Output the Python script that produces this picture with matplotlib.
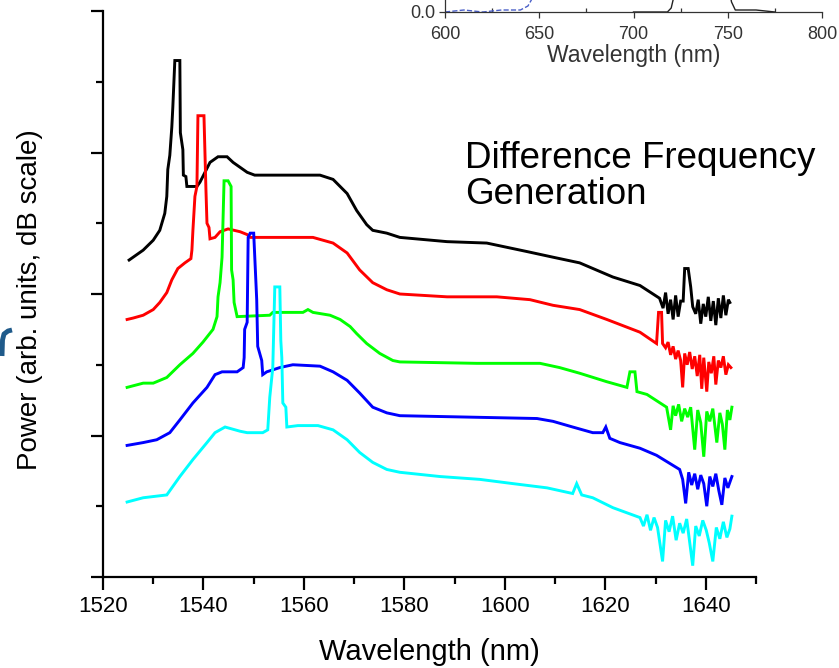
import matplotlib.pyplot as plt
from matplotlib.lines import Line2D
from matplotlib.ticker import MultipleLocator, FixedLocator, FormatStrFormatter

plt.rcParams['font.family'] = ['Liberation Sans', 'DejaVu Sans']

# DFG spectra, wavelength (nm) vs power (dB, arbitrary offset)
black_wl = [1525.2, 1528.0, 1530.0, 1531.3, 1532.3, 1532.7, 1532.9, 1533.3, 1533.7, 1533.9,
            1534.3, 1535.3, 1535.4, 1535.9, 1536.0, 1536.5, 1536.7, 1538.7, 1539.3, 1540.3,
            1541.3, 1542.9, 1544.7, 1545.9, 1547.9, 1548.7, 1550.2, 1563.2, 1565.8, 1568.6,
            1570.5, 1572.5, 1573.7, 1576.5, 1579.1, 1588.5, 1596.4, 1604.4, 1609.6, 1614.9,
            1621.5, 1626.9, 1630.8, 1631.5, 1632.0, 1632.5, 1633.0, 1633.5, 1634.0, 1634.5,
            1635.0, 1635.5, 1635.8, 1636.5, 1637.0, 1637.4, 1638.0, 1638.5, 1639.0, 1639.5,
            1640.0, 1640.5, 1641.0, 1641.5, 1642.0, 1642.5, 1643.0, 1643.5, 1644.0, 1644.5,
            1644.8]
black_db = [22.4, 23.1, 23.8, 24.5, 25.7, 26.9, 28.8, 29.8, 31.8, 33.2,
            36.5, 36.5, 31.4, 30.2, 28.4, 28.3, 27.6, 27.6, 27.9, 28.6,
            29.3, 29.7, 29.7, 29.3, 28.8, 28.6, 28.4, 28.4, 28.1, 27.1,
            25.9, 24.9, 24.5, 24.3, 24.0, 23.7, 23.6, 23.0, 22.6, 22.2,
            21.2, 20.6, 19.7, 19.0, 20.1, 18.6, 19.6, 18.2, 19.9, 18.4,
            19.5, 19.5, 21.8, 21.8, 20.5, 19.1, 18.6, 19.6, 17.9, 19.3,
            18.4, 19.8, 18.1, 19.5, 17.8, 19.7, 18.3, 19.9, 18.5, 19.6,
            19.4]

red_wl = [1524.8, 1526.0, 1528.0, 1530.0, 1531.3, 1532.7, 1533.7, 1534.9, 1536.3, 1537.5,
          1537.7, 1537.9, 1538.3, 1538.7, 1538.9, 1540.1, 1540.5, 1540.7, 1541.1, 1541.3,
          1542.3, 1543.3, 1544.9, 1547.3, 1548.7, 1549.3, 1561.8, 1565.8, 1568.6, 1571.1,
          1573.7, 1576.5, 1579.1, 1588.5, 1598.4, 1605.0, 1609.6, 1614.9, 1620.3, 1626.9,
          1630.2, 1630.6, 1631.2, 1631.4, 1632.0, 1632.5, 1633.0, 1633.5, 1634.0, 1634.5,
          1635.0, 1635.4, 1635.8, 1636.3, 1636.8, 1637.3, 1637.8, 1638.3, 1638.8, 1639.2,
          1639.6, 1640.2, 1640.6, 1641.1, 1641.6, 1642.0, 1642.5, 1643.0, 1643.5, 1644.0,
          1644.5, 1645.0]
red_db = [18.2, 18.3, 18.5, 18.9, 19.4, 20.1, 21.0, 21.8, 22.2, 22.5,
          23.1, 24.5, 26.9, 27.6, 32.6, 32.6, 27.3, 25.0, 24.7, 23.9,
          24.0, 24.4, 24.6, 24.4, 24.2, 24.0, 24.0, 23.6, 22.9, 21.7,
          20.8, 20.3, 20.0, 19.8, 19.8, 19.6, 19.2, 18.9, 18.2, 17.3,
          16.5, 18.7, 18.7, 16.5, 16.2, 16.6, 15.7, 16.3, 15.4, 16.0,
          15.3, 13.4, 15.8, 15.0, 15.9, 14.7, 15.6, 14.2, 15.7, 13.3,
          15.5, 13.1, 15.2, 14.4, 15.6, 13.6, 15.3, 14.8, 15.6, 14.3,
          15.0, 14.8]

green_wl = [1524.8, 1528.0, 1530.0, 1532.7, 1535.3, 1537.9, 1539.9, 1541.9, 1542.7, 1542.9,
            1543.3, 1543.7, 1544.1, 1544.9, 1545.5, 1545.6, 1545.9, 1546.1, 1546.7, 1553.2,
            1553.8, 1559.8, 1560.8, 1561.8, 1565.2, 1567.2, 1569.2, 1570.5, 1572.5, 1575.1,
            1577.7, 1579.1, 1594.4, 1607.0, 1610.9, 1614.9, 1620.3, 1624.3, 1624.9, 1625.9,
            1626.3, 1628.3, 1632.2, 1633.0, 1633.5, 1634.0, 1634.6, 1635.2, 1635.8, 1636.4,
            1637.0, 1637.8, 1638.4, 1639.0, 1639.6, 1640.2, 1640.8, 1641.4, 1642.2, 1642.8,
            1643.3, 1643.8, 1644.3, 1644.8, 1645.2]
green_db = [13.4, 13.7, 13.7, 14.1, 15.0, 15.8, 16.6, 17.5, 18.4, 19.8,
            20.8, 22.6, 28.0, 28.0, 27.6, 21.7, 21.0, 19.4, 18.4, 18.5,
            18.7, 18.7, 18.9, 18.7, 18.5, 18.2, 17.7, 17.2, 16.5, 15.8,
            15.3, 15.2, 15.1, 15.1, 14.8, 14.4, 13.8, 13.4, 14.5, 14.5,
            13.1, 12.9, 12.0, 10.4, 12.1, 11.4, 12.2, 11.0, 11.9, 11.3,
            12.0, 9.0, 11.8, 10.9, 8.5, 11.7, 11.0, 11.9, 9.5, 11.6,
            10.8, 9.0, 11.8, 11.1, 12.0]

blue_wl = [1524.8, 1528.0, 1530.7, 1533.3, 1535.3, 1537.9, 1540.7, 1542.3, 1543.7, 1546.7,
           1547.9, 1548.1, 1548.2, 1548.7, 1548.9, 1549.3, 1550.0, 1550.6, 1550.8, 1551.6,
           1551.8, 1552.6, 1555.2, 1557.8, 1563.2, 1565.8, 1568.6, 1571.1, 1573.7, 1576.5,
           1579.1, 1606.4, 1609.6, 1613.5, 1617.5, 1619.5, 1620.1, 1620.9, 1622.9, 1626.9,
           1630.2, 1634.8, 1635.4, 1636.0, 1636.6, 1637.2, 1637.8, 1638.4, 1639.0, 1639.6,
           1640.2, 1640.8, 1641.4, 1642.0, 1642.6, 1643.2, 1643.8, 1644.4, 1645.2]
blue_db = [9.3, 9.5, 9.7, 10.2, 11.1, 12.3, 13.4, 14.3, 14.5, 14.5,
           14.8, 15.5, 17.5, 18.0, 24.0, 24.3, 24.3, 19.6, 16.3, 15.3,
           14.3, 14.5, 14.8, 15.0, 14.9, 14.5, 13.9, 13.0, 12.0, 11.6,
           11.4, 11.2, 11.0, 10.6, 10.2, 10.2, 10.6, 9.8, 9.5, 9.1,
           8.6, 7.6, 6.9, 5.2, 7.4, 6.5, 7.3, 6.2, 7.2, 6.6,
           5.0, 7.1, 6.4, 7.3, 6.1, 5.1, 7.0, 6.3, 7.1]

cyan_wl = [1524.8, 1528.0, 1532.7, 1535.3, 1537.9, 1540.7, 1542.3, 1544.3, 1547.3, 1548.7,
           1551.8, 1552.8, 1553.2, 1553.8, 1554.2, 1555.2, 1555.4, 1555.6, 1555.8, 1556.4,
           1556.6, 1558.8, 1562.8, 1565.8, 1568.6, 1571.1, 1573.7, 1576.5, 1579.1, 1587.1,
           1595.0, 1601.6, 1608.4, 1613.5, 1614.3, 1615.3, 1617.5, 1621.5, 1626.9, 1627.6,
           1628.3, 1629.0, 1629.7, 1630.4, 1631.4, 1632.0, 1632.7, 1633.4, 1634.1, 1634.8,
           1635.5, 1636.2, 1637.4, 1638.0, 1638.7, 1639.4, 1640.1, 1640.7, 1641.4, 1642.1,
           1642.8, 1643.5, 1644.2, 1644.8, 1645.2]
cyan_db = [5.3, 5.6, 5.8, 7.1, 8.3, 9.5, 10.2, 10.6, 10.3, 10.2,
           10.2, 10.4, 12.7, 14.8, 20.5, 20.5, 16.7, 15.5, 12.3, 12.0,
           10.6, 10.7, 10.7, 10.4, 9.7, 8.8, 8.1, 7.6, 7.4, 7.1,
           6.9, 6.6, 6.3, 5.9, 6.6, 5.8, 5.6, 4.9, 4.2, 3.6,
           4.4, 3.3, 4.2, 3.5, 1.1, 4.0, 3.2, 4.3, 2.6, 3.8,
           3.1, 4.1, 0.8, 3.6, 2.9, 4.0, 3.3, 2.4, 1.1, 3.5,
           2.7, 3.9, 2.8, 3.4, 4.3]

# inset (only the bottom strip is visible in the crop)
inset_blue_wl = [600, 610, 620, 630, 640, 644, 647, 650, 655, 660]
inset_blue_val = [0.0, 0.01, 0.0, 0.01, 0.01, 0.03, 0.08, 0.2, 0.45, 0.7]
inset_black_wl = [700, 710, 718, 720, 722, 725, 735, 745, 750, 752, 754, 765, 775]
inset_black_val = [0.0, 0.0, 0.0, 0.02, 0.1, 0.35, 0.9, 0.55, 0.15, 0.05, 0.01, 0.01, 0.0]

fig = plt.figure(figsize=(8.39, 6.68), dpi=100)
ax = fig.add_axes([103 / 839, 91 / 668, 653 / 839, 566 / 668])

traces = [(black_wl, black_db, 'black'), (red_wl, red_db, '#ff0000'),
          (green_wl, green_db, '#00ff00'), (blue_wl, blue_db, '#0000ff'),
          (cyan_wl, cyan_db, '#00ffff')]
for wl, db, col in traces:
    ax.plot(wl, db, color=col, lw=2.1, solid_joinstyle='miter')

ax.set_xlim(1520, 1650)
ax.set_ylim(0, 40)
ax.xaxis.set_major_locator(MultipleLocator(20))
ax.xaxis.set_minor_locator(MultipleLocator(10))
ax.yaxis.set_major_locator(MultipleLocator(10))
ax.yaxis.set_minor_locator(MultipleLocator(5))
ax.set_yticklabels([])
for s in ['top', 'right']:
    ax.spines[s].set_visible(False)
for s in ['left', 'bottom']:
    ax.spines[s].set_linewidth(1.6)
ax.tick_params(axis='both', which='major', length=9, width=1.6, labelsize=16, pad=5)
ax.tick_params(axis='both', which='minor', length=5, width=1.6)
ax.set_xlabel('Wavelength (nm)', fontsize=21)
ax.xaxis.set_label_coords(0.5, -0.108)
ax.set_ylabel('Power (arb. units, dB scale)', fontsize=20)
ax.yaxis.set_label_coords(-0.092, 0.49)

ax.text((465 - 103) / 653, (577 - 141) / 566, 'Difference Frequency\nGeneration',
        transform=ax.transAxes, fontsize=26.5, va='top', ha='left', linespacing=1.05)

# inset panel cut by the top edge
ins = fig.add_axes([445 / 839, 656 / 668, 377 / 839, 200 / 668])
ins.plot(inset_blue_wl, inset_blue_val, color='#4a5fc8', lw=1.0, ls='--')
ins.plot(inset_black_wl, inset_black_val, color='#222222', lw=1.0)
ins.set_xlim(600, 800)
ins.set_ylim(0, 1)
ins.xaxis.set_major_locator(MultipleLocator(50))
ins.xaxis.set_minor_locator(MultipleLocator(25))
ins.yaxis.set_major_locator(FixedLocator([0.0]))
ins.yaxis.set_major_formatter(FormatStrFormatter('%.1f'))
for s in ['top', 'right']:
    ins.spines[s].set_visible(False)
for s in ['left', 'bottom']:
    ins.spines[s].set_color('#333333')
    ins.spines[s].set_linewidth(0.9)
ins.tick_params(which='major', direction='out', length=4, width=0.9, labelsize=13,
                colors='#333333', labelcolor='#333333', pad=6)
ins.tick_params(axis='y', which='major', pad=3)
ins.tick_params(which='minor', direction='in', length=3, width=0.9, colors='#333333')
ins.set_xlabel('Wavelength (nm)', fontsize=16.5, color='#333333', labelpad=1)

# stray mark from the neighbouring panel at the left edge
fig.add_artist(Line2D([2 / 839, 2.5 / 839, 4 / 839, 8 / 839, 12 / 839],
                      [1 - 356 / 668, 1 - 340 / 668, 1 - 334 / 668, 1 - 331 / 668, 1 - 330 / 668],
                      color='#1f5a8a', lw=3.5, solid_capstyle='butt'))

fig.savefig('out.png', dpi=100)
